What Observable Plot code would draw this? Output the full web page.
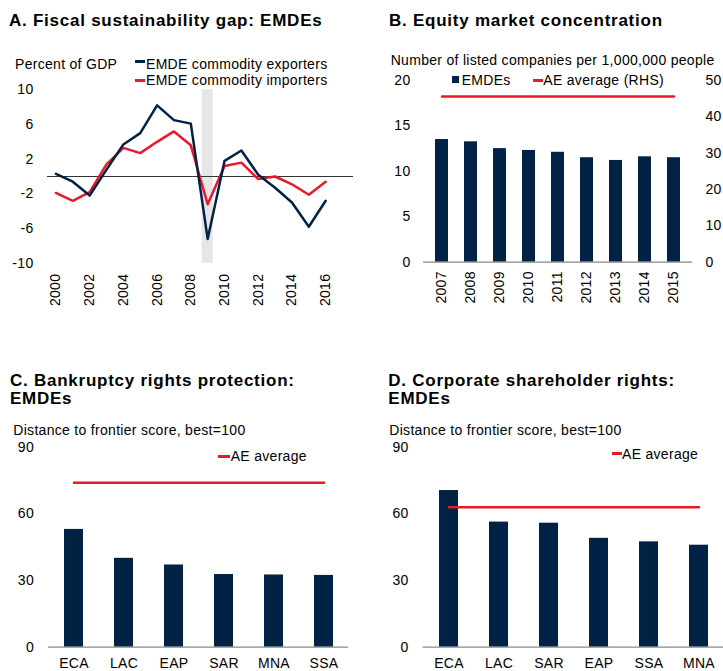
<!DOCTYPE html>
<html><head><meta charset="utf-8">
<script src="https://cdn.jsdelivr.net/npm/d3@7"></script>
<script src="https://cdn.jsdelivr.net/npm/@observablehq/plot@0.6"></script>
<style>
html,body{margin:0;padding:0;background:#fff;overflow:hidden;}
#wrap{position:relative;width:723px;height:671px;overflow:hidden;font-family:Arial,"Liberation Sans",sans-serif;color:#000;}
.abs{position:absolute;white-space:nowrap;line-height:1;}
.t{font-weight:bold;font-size:17px;letter-spacing:0.75px;}
.s{font-size:14px;letter-spacing:0.3px;}
.sw{position:absolute;}
.plot{position:absolute;}
</style></head><body><div id="wrap"></div>
<script>
// ---------- data ----------
const yearsA = [2000,2001,2002,2003,2004,2005,2006,2007,2008,2009,2010,2011,2012,2013,2014,2015,2016];
const exporters = [0.3,-0.6,-2.2,0.8,3.7,5.0,8.2,6.5,6.1,-7.2,1.8,3.0,0.2,-1.3,-3.0,-5.8,-2.8];
const importers = [-1.9,-2.8,-1.8,1.4,3.3,2.7,4.0,5.2,3.6,-3.2,1.2,1.6,-0.3,0.0,-0.9,-2.1,-0.6];
const shadedYears = [2009];
const xTicksA = [2000,2002,2004,2006,2008,2010,2012,2014,2016];
const yTicksA = [-10,-6,-2,2,6,10];

const yearsB = ["2007","2008","2009","2010","2011","2012","2013","2014","2015"];
const emdesB = [13.5,13.25,12.5,12.3,12.1,11.5,11.2,11.6,11.5];
const aeB = 45.6; // right-hand scale
const yTicksB = [0,5,10,15,20];
const yTicksBRight = [0,10,20,30,40,50];

const regionsC = ["ECA","LAC","EAP","SAR","MNA","SSA"];
const valuesC = [53,40,37,32.7,32.5,32.3];
const aeC = 74;
const regionsD = ["ECA","LAC","SAR","EAP","SSA","MNA"];
const valuesD = [70.5,56.3,55.8,49,47.4,45.9];
const aeD = 63;
const yTicksCD = [0,30,60,90];

// ---------- styles ----------
const navy = "#002245";
const red = "#E8192C";
const font = 'Arial, "Liberation Sans", sans-serif';
const baseStyle = {fontFamily: font, fontSize: "14px", letterSpacing: "0.3px", color: "#000", background: "transparent", overflow: "visible"};
const wrap = document.getElementById("wrap");

function place(el, left, top) {
  el.classList.add("plot");
  el.style.left = left + "px";
  el.style.top = top + "px";
  wrap.appendChild(el);
}
function text(str, cls, left, top) {
  const d = document.createElement("div");
  d.className = "abs " + cls;
  d.innerHTML = str;
  d.style.left = left + "px";
  d.style.top = top + "px";
  wrap.appendChild(d);
  return d;
}
function swatch(color, left, top, w, h) {
  const d = document.createElement("div");
  d.className = "sw";
  d.style.cssText += `left:${left}px;top:${top}px;width:${w}px;height:${h}px;background:${color};`;
  wrap.appendChild(d);
}

// ---------- Panel A ----------
const tableA = yearsA.flatMap((y, i) => [
  {year: y, value: exporters[i], series: "EMDE commodity exporters"},
  {year: y, value: importers[i], series: "EMDE commodity importers"}
]);
const A = Plot.plot({
  width: 362, height: 320,
  marginLeft: 47, marginRight: 9, marginTop: 89.3, marginBottom: 57.3,
  style: baseStyle,
  x: {domain: [1999.5, 2017.65], axis: null, label: null},
  y: {domain: [d3.min(yTicksA), d3.max(yTicksA)], axis: null, label: null},
  marks: [
    Plot.rect(shadedYears, {x1: d => d - 0.33, x2: d => d + 0.33, y1: d3.min(yTicksA), y2: d3.max(yTicksA), fill: "#e6e6e6"}),
    Plot.ruleY([0], {stroke: "#333", strokeWidth: 1}),
    Plot.line(tableA.filter(d => d.series.endsWith("importers")), {x: "year", y: "value", stroke: red, strokeWidth: 2.5}),
    Plot.line(tableA.filter(d => d.series.endsWith("exporters")), {x: "year", y: "value", stroke: navy, strokeWidth: 2.5}),
    Plot.axisX(xTicksA, {tickRotate: -90, tickSize: 0, tickPadding: 10.5, tickFormat: d => String(d), label: null}),
    Plot.axisY(yTicksA, {tickSize: 0, tickPadding: 14, tickFormat: d => String(d), label: null})
  ]
});
place(A, 0, 0);

// ---------- Panel B ----------
const tableB = yearsB.map((y, i) => ({year: y, emdes: emdesB[i], ae: aeB}));
const ratioB = d3.max(yTicksBRight) / d3.max(yTicksB);
const B = Plot.plot({
  width: 363, height: 320,
  marginLeft: 63, marginRight: 31, marginTop: 80, marginBottom: 58.3,
  style: baseStyle,
  x: {type: "band", domain: yearsB, paddingInner: 0.56, paddingOuter: 0.28, axis: null, label: null},
  y: {domain: [0, d3.max(yTicksB)], axis: null, label: null},
  marks: [
    Plot.barY(tableB, {x: "year", y: "emdes", fill: navy}),
    Plot.ruleY([0], {stroke: "#888", strokeWidth: 1.3}),
    Plot.lineY(tableB, {x: "year", y: d => d.ae / ratioB, stroke: red, strokeWidth: 2.5}),
    Plot.axisX({tickRotate: -90, tickSize: 0, tickPadding: 9, label: null}),
    Plot.axisY(yTicksB, {anchor: "left", tickSize: 0, tickPadding: 13, tickFormat: d => String(d), label: null}),
    Plot.axisY(yTicksBRight.map(t => t / ratioB), {anchor: "right", tickSize: 0, tickPadding: 13, tickFormat: d => String(Math.round(d * ratioB)), label: null})
  ]
});
place(B, 360, 0);

// ---------- Panels C & D ----------
function barPanel(regions, values, ae, width, ml, mr) {
  const table = regions.map((r, i) => ({region: r, value: values[i], ae}));
  return Plot.plot({
    width, height: 331,
    marginLeft: ml, marginRight: mr, marginTop: 106.7, marginBottom: 24.3,
    style: baseStyle,
    x: {type: "band", domain: regions, paddingInner: 0.62, paddingOuter: 0.31, axis: null, label: null},
    y: {domain: [0, d3.max(yTicksCD)], axis: null, label: null},
    marks: [
      Plot.barY(table, {x: "region", y: "value", fill: navy}),
      Plot.ruleY([0], {stroke: "#888", strokeWidth: 1.3}),
      Plot.lineY(table, {x: "region", y: "ae", stroke: red, strokeWidth: 2.5}),
      Plot.axisX({tickSize: 0, tickPadding: 11, label: null}),
      Plot.axisY(yTicksCD, {tickSize: 0, tickPadding: 14.5, tickFormat: d => String(d), label: null})
    ]
  });
}
place(barPanel(regionsC, valuesC, aeC, 360, 48, 12), 0, 340);
place(barPanel(regionsD, valuesD, aeD, 356, 52.6, 1.6), 370, 340);

// ---------- titles, subtitles, legends ----------
text("A. Fiscal sustainability gap: EMDEs", "t", 9, 12.3);
text("B. Equity market concentration", "t", 389, 12.3);
const tc = text("C. Bankruptcy rights protection:<br>EMDEs", "t", 10, 372);
tc.style.lineHeight = "17.6px";
const td = text("D. Corporate shareholder rights:<br>EMDEs", "t", 388.3, 372);
td.style.lineHeight = "17.6px";

text("Percent of GDP", "s", 15, 56.5);
swatch(navy, 135, 60.2, 10, 3);
text("EMDE commodity exporters", "s", 146, 56.5);
swatch(red, 135, 78.5, 10, 3);
text("EMDE commodity importers", "s", 146, 73.2);

text("Number of listed companies per 1,000,000 people", "s", 390.7, 53.2);
swatch(navy, 451.7, 75.7, 7.6, 7.6);
text("EMDEs", "s", 461.7, 72.5);
swatch(red, 533.3, 78.5, 9.5, 3);
text("AE average (RHS)", "s", 543.3, 72.5);

text("Distance to frontier score, best=100", "s", 13.3, 423.2);
swatch(red, 218.3, 454.5, 11.7, 3);
text("AE average", "s", 230.7, 449.2);

text("Distance to frontier score, best=100", "s", 389.3, 423.2);
swatch(red, 611.7, 451.8, 10, 3);
text("AE average", "s", 622, 446.5);
</script></body></html>
